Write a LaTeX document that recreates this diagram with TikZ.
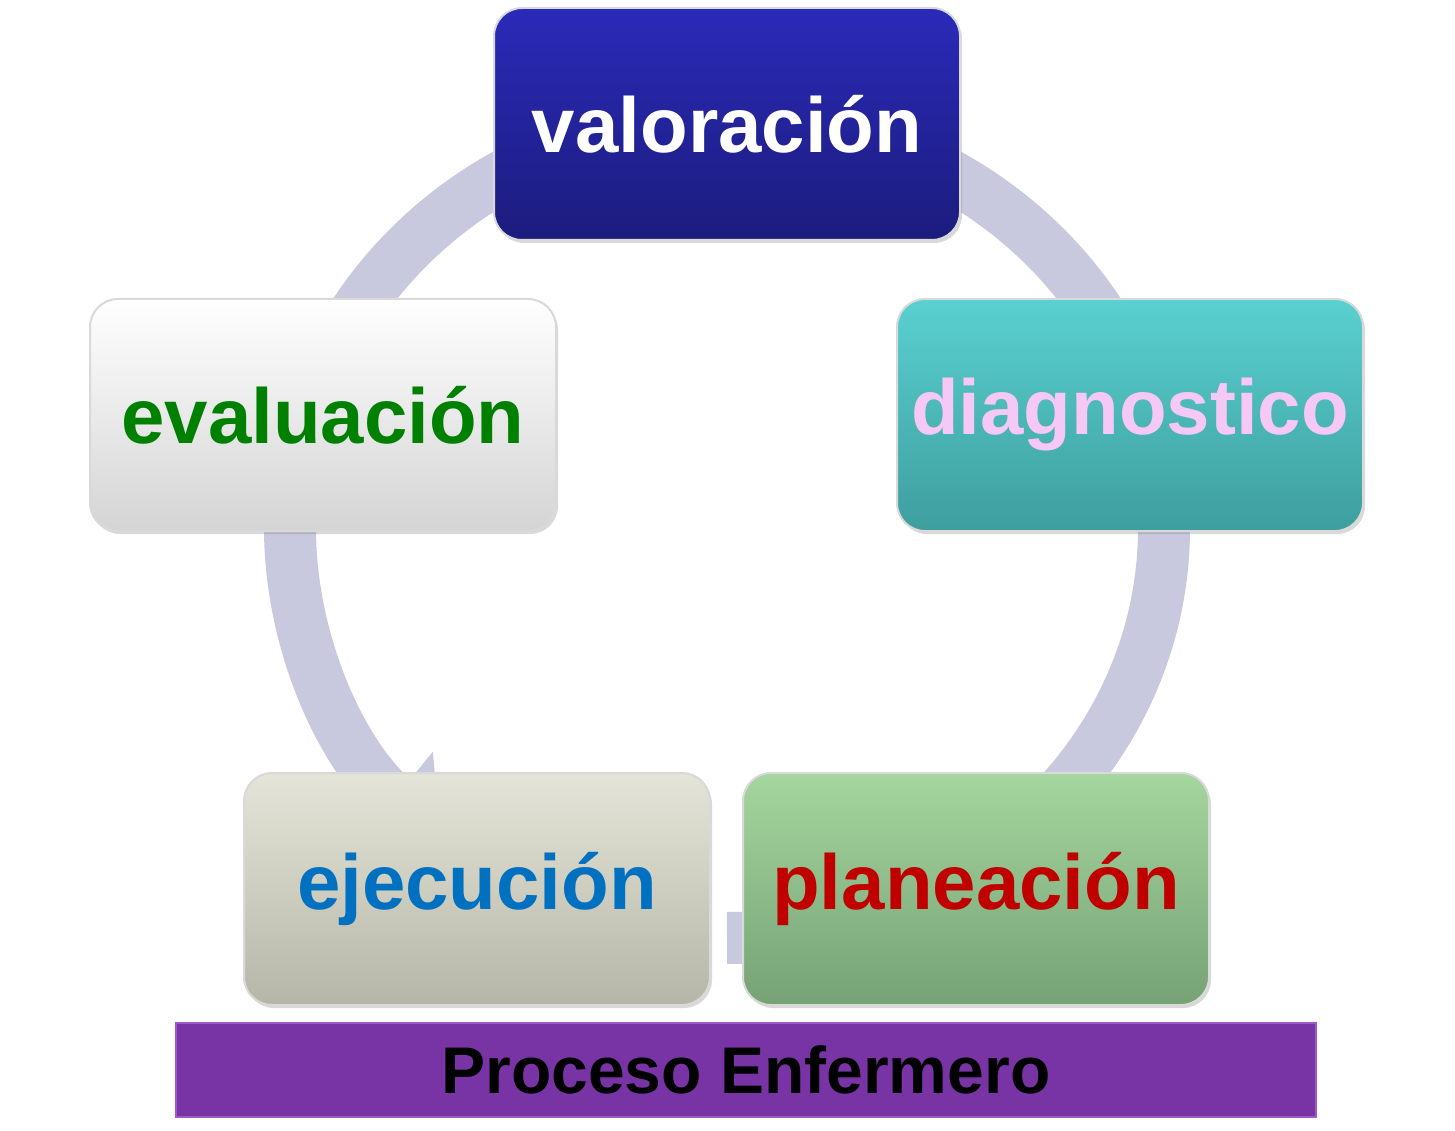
\documentclass[tikz,border=0pt]{standalone}
\usepackage{fontspec}
\setmainfont{Liberation Sans}
\usetikzlibrary{arrows.meta,shadows}
\definecolor{ring}{RGB}{200,200,222}
\definecolor{vt}{RGB}{42,42,185}\definecolor{vb}{RGB}{28,28,125}
\definecolor{dt}{RGB}{90,208,208}\definecolor{db}{RGB}{62,158,158}
\definecolor{et}{RGB}{255,255,255}\definecolor{eb}{RGB}{212,212,212}
\definecolor{jt}{RGB}{228,228,216}\definecolor{jb}{RGB}{182,182,168}
\definecolor{pt}{RGB}{165,214,158}\definecolor{pb}{RGB}{118,162,118}
\definecolor{pinkt}{RGB}{245,200,245}
\definecolor{greent}{RGB}{0,128,0}
\definecolor{bluet}{RGB}{0,112,192}
\definecolor{redt}{RGB}{192,0,0}
\definecolor{purp}{RGB}{120,52,165}\definecolor{purpb}{RGB}{160,90,200}
\tikzset{
 stage/.style={rounded corners=28pt,minimum width=466pt,minimum height=232pt,
   draw=white!70!gray,line width=2pt,font=\fontsize{78}{80}\selectfont\bfseries,
   drop shadow={shadow xshift=2pt,shadow yshift=-3pt,opacity=0.3}},
}
\begin{document}
\begin{tikzpicture}[x=1pt,y=-1pt]
\useasboundingbox (0,0) rectangle (1455,1131);
\draw[ring,line width=52pt,-{Triangle[length=60pt,width=120pt]}]
  (727,528) ++(90:437 and 410) arc[start angle=90,end angle=-229,x radius=437,y radius=410];
\node[stage,top color=vt,bottom color=vb,text=white] (val) at (727,124) {valoración};
\node[stage,top color=dt,bottom color=db,text=pinkt] (dia) at (1130,415) {diagnostico};
\node[stage,top color=et,bottom color=eb,text=greent] (eva) at (323,415) {evaluación};
\node[stage,top color=jt,bottom color=jb,text=bluet] (eje) at (477,889) {ejecución};
\node[stage,top color=pt,bottom color=pb,text=redt] (pla) at (976,889) {planeación};
\node[fill=purp,draw=purpb,line width=2pt,minimum width=1140pt,minimum height=94pt,
  font=\fontsize{66}{70}\selectfont\bfseries,text=black] (bar) at (746,1070) {Proceso Enfermero};
\end{tikzpicture}
\end{document}
